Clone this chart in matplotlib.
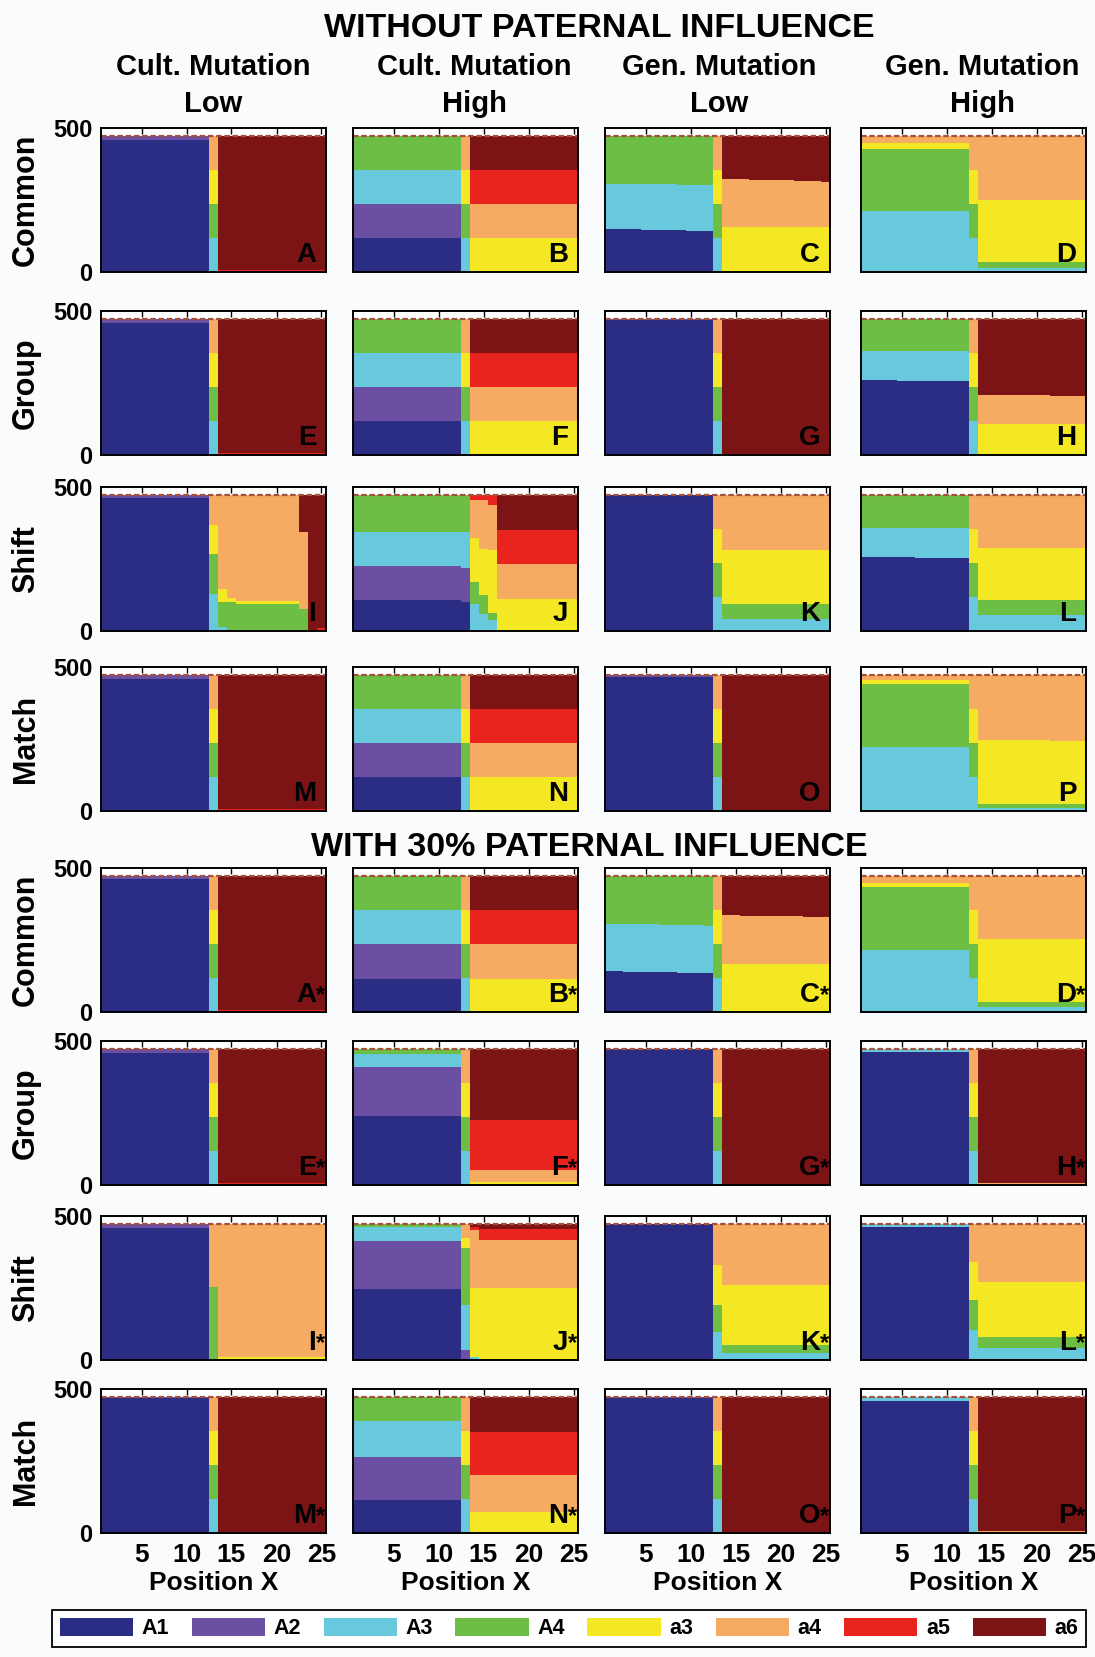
import numpy as np
import matplotlib.pyplot as plt
from matplotlib.patches import Patch
from matplotlib.transforms import offset_copy

plt.rcParams['font.family'] = ['Liberation Sans', 'DejaVu Sans']
plt.rcParams['font.weight'] = 'bold'
plt.rcParams['axes.labelweight'] = 'bold'

types = ['A1', 'A2', 'A3', 'A4', 'a3', 'a4', 'a5', 'a6']
colors = ['#2b2c83', '#6b4fa2', '#68c9dc', '#6dbe45',
          '#f3e823', '#f6ab62', '#e9241f', '#7c1416']
xticks = [5, 10, 15, 20, 25]
col_titles = [('Cult. Mutation', 'Low'), ('Cult. Mutation', 'High'),
              ('Gen. Mutation', 'Low'), ('Gen. Mutation', 'High')]
row_titles = ['Common', 'Group', 'Shift', 'Match']
section_titles = ['WITHOUT PATERNAL INFLUENCE', 'WITH 30% PATERNAL INFLUENCE']
letters = list('ABCDEFGHIJKLMNOP')

# counts at positions 1..25, one row per type (A1, A2, A3, A4, a3, a4, a5, a6)
panel_A = [
    [458] * 12 + [0] * 13,
    [14] * 12 + [0] * 13,
    [0] * 12 + [118] + [0] * 12,
    [0] * 12 + [118] + [0] * 12,
    [0] * 12 + [118] + [0] * 12,
    [0] * 12 + [118] + [0] * 12,
    [0] * 13 + [8] * 12,
    [0] * 13 + [464] * 12,
]
panel_B = [
    [118] * 12 + [0] * 13,
    [118] * 12 + [0] * 13,
    [118] * 12 + [118] + [0] * 12,
    [118] * 12 + [118] + [0] * 12,
    [0] * 12 + [118] + [118] * 12,
    [0] * 12 + [118] + [118] * 12,
    [0] * 13 + [118] * 12,
    [0] * 13 + [118] * 12,
]
panel_C = [
    [149, 149, 148, 148, 147, 147, 146, 146, 145, 144, 143, 142] + [0] * 13,
    [0] * 25,
    [157, 157, 158, 158, 158, 158, 158, 158, 158, 158, 158, 159] + [118] + [0] * 12,
    [166, 166, 166, 166, 167, 167, 168, 168, 169, 170, 171, 171] + [118] + [0] * 12,
    [0] * 12 + [118] + [157] * 12,
    [0] * 12 + [118] + [166, 165, 165, 164, 163, 162, 161, 161, 160, 159, 158, 157],
    [0] * 25,
    [0] * 13 + [149, 150, 150, 151, 152, 153, 154, 154, 155, 156, 157, 158],
]
panel_D = [
    [0] * 25,
    [0] * 25,
    [213] * 12 + [118] + [14] * 12,
    [215] * 12 + [118] + [19] * 12,
    [20] * 12 + [118] + [217] * 12,
    [24] * 12 + [118] + [222] * 12,
    [0] * 25,
    [0] * 25,
]
panel_E = [
    [458] * 12 + [0] * 13,
    [14] * 12 + [0] * 13,
    [0] * 12 + [118] + [0] * 12,
    [0] * 12 + [118] + [0] * 12,
    [0] * 12 + [118] + [0] * 12,
    [0] * 12 + [118] + [0] * 12,
    [0] * 13 + [8] * 12,
    [0] * 13 + [464] * 12,
]
panel_F = [
    [118] * 12 + [0] * 13,
    [118] * 12 + [0] * 13,
    [118] * 12 + [118] + [0] * 12,
    [118] * 12 + [118] + [0] * 12,
    [0] * 12 + [118] + [118] * 12,
    [0] * 12 + [118] + [118] * 12,
    [0] * 13 + [118] * 12,
    [0] * 13 + [118] * 12,
]
panel_G = [
    [470] * 12 + [0] * 13,
    [2] * 12 + [0] * 13,
    [0] * 12 + [118] + [0] * 12,
    [0] * 12 + [118] + [0] * 12,
    [0] * 12 + [118] + [0] * 12,
    [0] * 12 + [118] + [0] * 12,
    [0] * 25,
    [0] * 13 + [472] * 12,
]
panel_H = [
    [260, 260, 259, 259, 258, 258, 258, 257, 257, 257, 256, 256] + [0] * 13,
    [0] * 25,
    [100, 100, 101, 101, 102, 102, 102, 103, 103, 103, 104, 104] + [118] + [0] * 12,
    [112] * 12 + [118] + [0] * 12,
    [0] * 12 + [118] + [107] * 12,
    [0] * 12 + [118] + [102, 102, 101, 101, 101, 100, 100, 100, 99, 99, 99, 99],
    [0] * 25,
    [0] * 13 + [263, 263, 264, 264, 264, 265, 265, 265, 266, 266, 266, 266],
]
panel_I = [
    [463] * 12 + [0] * 13,
    [9] * 12 + [0] * 13,
    [0] * 12 + [130] + [15, 5, 0, 0, 0, 0, 0, 0, 0, 0, 0, 0],
    [0] * 12 + [138] + [85, 95, 95, 95, 95, 95, 95, 95, 95, 75, 0, 0],
    [0] * 12 + [99] + [45, 15, 10, 10, 10, 10, 8, 8, 8, 0, 0, 0],
    [0] * 12 + [105] + [327, 357, 367, 367, 367, 367, 369, 369, 369, 270, 0, 0],
    [0] * 24 + [10],
    [0] * 22 + [127, 472, 462],
]
panel_J = [
    [106] * 12 + [101] + [0] * 12,
    [118] * 12 + [119] + [0] * 12,
    [120] * 12 + [125] + [93, 60, 37] + [0] * 9,
    [128] * 12 + [127] + [77, 64, 25] + [0] * 9,
    [0] * 13 + [154, 162, 218] + [112] * 9,
    [0] * 13 + [130, 168, 157] + [122] * 9,
    [0] * 13 + [18, 18, 35] + [116] * 9,
    [0] * 16 + [122] * 9,
]
panel_K = [
    [472] * 12 + [0] * 13,
    [0] * 25,
    [0] * 12 + [118] + [43] * 12,
    [0] * 12 + [118] + [52] * 12,
    [0] * 12 + [118] + [185] * 12,
    [0] * 12 + [118] + [192] * 12,
    [0] * 25,
    [0] * 25,
]
panel_L = [
    [257, 257, 257, 256, 256, 256, 255, 255, 255, 254, 254, 253] + [0] * 13,
    [0] * 25,
    [102, 102, 102, 103, 103, 103, 104, 104, 104, 105, 105, 106] + [118] + [54] * 12,
    [113] * 12 + [118] + [55] * 12,
    [0] * 12 + [118] + [180] * 12,
    [0] * 12 + [118] + [183] * 12,
    [0] * 25,
    [0] * 25,
]
panel_M = [
    [460] * 12 + [0] * 13,
    [12] * 12 + [0] * 13,
    [0] * 12 + [118] + [0] * 12,
    [0] * 12 + [118] + [0] * 12,
    [0] * 12 + [118] + [0] * 12,
    [0] * 12 + [118] + [0] * 12,
    [0] * 13 + [8] * 12,
    [0] * 13 + [464] * 12,
]
panel_N = [
    [118] * 12 + [0] * 13,
    [118] * 12 + [0] * 13,
    [118] * 12 + [118] + [0] * 12,
    [118] * 12 + [118] + [0] * 12,
    [0] * 12 + [118] + [118] * 12,
    [0] * 12 + [118] + [118] * 12,
    [0] * 13 + [118] * 12,
    [0] * 13 + [118] * 12,
]
panel_O = [
    [466] * 12 + [0] * 13,
    [6] * 12 + [0] * 13,
    [0] * 12 + [118] + [0] * 12,
    [0] * 12 + [118] + [0] * 12,
    [0] * 12 + [118] + [0] * 12,
    [0] * 12 + [118] + [0] * 12,
    [0] * 25,
    [0] * 13 + [472] * 12,
]
panel_P = [
    [0] * 25,
    [0] * 25,
    [221] * 12 + [118] + [9] * 12,
    [221] * 12 + [118] + [14] * 12,
    [12] * 12 + [118] + [225, 225, 224, 224, 223, 223, 222, 222, 221, 221, 220, 220],
    [18] * 12 + [118] + [224, 224, 225, 225, 226, 226, 227, 227, 228, 228, 229, 229],
    [0] * 25,
    [0] * 25,
]

panel_A_s = [
    [462] * 12 + [0] * 13,
    [10] * 12 + [0] * 13,
    [0] * 12 + [118] + [0] * 12,
    [0] * 12 + [118] + [0] * 12,
    [0] * 12 + [118] + [0] * 12,
    [0] * 12 + [118] + [0] * 12,
    [0] * 13 + [8] * 12,
    [0] * 13 + [464] * 12,
]
panel_B_s = [
    [115] * 12 + [0] * 13,
    [120] * 12 + [0] * 13,
    [118] * 12 + [118] + [0] * 12,
    [119] * 12 + [118] + [0] * 12,
    [0] * 12 + [118] + [115] * 12,
    [0] * 12 + [118] + [120] * 12,
    [0] * 13 + [118] * 12,
    [0] * 13 + [119] * 12,
]
panel_C_s = [
    [141, 141, 140, 140, 139, 139, 138, 138, 137, 137, 136, 135] + [0] * 13,
    [0] * 25,
    [165] * 12 + [118] + [0] * 12,
    [166, 166, 167, 167, 168, 168, 169, 169, 170, 170, 171, 172] + [118] + [0] * 12,
    [0] * 12 + [118] + [165] * 12,
    [0] * 12 + [118] + [171, 171, 170, 170, 169, 169, 168, 168, 167, 166, 165, 164],
    [0] * 25,
    [0] * 13 + [136, 136, 137, 137, 138, 138, 139, 139, 140, 141, 142, 143],
]
panel_D_s = [
    [0] * 25,
    [0] * 25,
    [215] * 12 + [118] + [18] * 12,
    [218] * 12 + [118] + [17] * 12,
    [14] * 12 + [118] + [218] * 12,
    [25] * 12 + [118] + [219] * 12,
    [0] * 25,
    [0] * 25,
]
panel_E_s = [
    [459] * 12 + [0] * 13,
    [13] * 12 + [0] * 13,
    [0] * 12 + [118] + [0] * 12,
    [0] * 12 + [118] + [0] * 12,
    [0] * 12 + [118] + [0] * 12,
    [0] * 12 + [118] + [0] * 12,
    [0] * 13 + [8] * 12,
    [0] * 13 + [464] * 12,
]
panel_F_s = [
    [241] * 12 + [0] * 13,
    [170] * 12 + [0] * 13,
    [43] * 12 + [118] + [0] * 12,
    [18] * 12 + [118] + [0] * 12,
    [0] * 12 + [118] + [12] * 12,
    [0] * 12 + [118] + [40] * 12,
    [0] * 13 + [172] * 12,
    [0] * 13 + [248] * 12,
]
panel_G_s = [
    [472] * 12 + [0] * 13,
    [0] * 25,
    [0] * 12 + [118] + [0] * 12,
    [0] * 12 + [118] + [0] * 12,
    [0] * 12 + [118] + [0] * 12,
    [0] * 12 + [118] + [0] * 12,
    [0] * 25,
    [0] * 13 + [472] * 12,
]
panel_H_s = [
    [462] * 12 + [0] * 13,
    [0] * 25,
    [10] * 12 + [118] + [0] * 12,
    [0] * 12 + [118] + [0] * 12,
    [0] * 12 + [118] + [0] * 12,
    [0] * 12 + [118] + [6] * 12,
    [0] * 25,
    [0] * 13 + [466] * 12,
]
panel_I_s = [
    [460] * 12 + [0] * 13,
    [12] * 12 + [0] * 13,
    [0] * 12 + [5] + [0] * 12,
    [0] * 12 + [250] + [0] * 12,
    [0] * 13 + [10] * 12,
    [0] * 12 + [217] + [462] * 12,
    [0] * 25,
    [0] * 25,
]
panel_J_s = [
    [245] * 12 + [0] * 13,
    [168] * 12 + [35] + [0] * 12,
    [50] * 12 + [156] + [10] + [0] * 11,
    [9] * 12 + [197] + [0] * 12,
    [0] * 12 + [34] + [240] + [249] * 11,
    [0] * 12 + [50] + [200] + [168] * 11,
    [0] * 13 + [12] + [37] * 11,
    [0] * 13 + [10] + [18] * 11,
]
panel_K_s = [
    [472] * 12 + [0] * 13,
    [0] * 25,
    [0] * 12 + [98] + [23] * 12,
    [0] * 12 + [93] + [29] * 12,
    [0] * 12 + [139] + [208] * 12,
    [0] * 12 + [142] + [212] * 12,
    [0] * 25,
    [0] * 25,
]
panel_L_s = [
    [462] * 12 + [0] * 13,
    [0] * 25,
    [10] * 12 + [104] + [40] * 12,
    [0] * 12 + [104] + [41] * 12,
    [0] * 12 + [133] + [191] * 12,
    [0] * 12 + [131] + [200] * 12,
    [0] * 25,
    [0] * 25,
]
panel_M_s = [
    [470] * 12 + [0] * 13,
    [2] * 12 + [0] * 13,
    [0] * 12 + [118] + [0] * 12,
    [0] * 12 + [118] + [0] * 12,
    [0] * 12 + [118] + [0] * 12,
    [0] * 12 + [118] + [0] * 12,
    [0] * 25,
    [0] * 13 + [472] * 12,
]
panel_N_s = [
    [115] * 12 + [0] * 13,
    [149] * 12 + [0] * 13,
    [126] * 12 + [118] + [0] * 12,
    [82] * 12 + [118] + [0] * 12,
    [0] * 12 + [118] + [72] * 12,
    [0] * 12 + [118] + [128] * 12,
    [0] * 13 + [149] * 12,
    [0] * 13 + [123] * 12,
]
panel_O_s = [
    [470] * 12 + [0] * 13,
    [2] * 12 + [0] * 13,
    [0] * 12 + [118] + [0] * 12,
    [0] * 12 + [118] + [0] * 12,
    [0] * 12 + [118] + [0] * 12,
    [0] * 12 + [118] + [0] * 12,
    [0] * 25,
    [0] * 13 + [472] * 12,
]
panel_P_s = [
    [458] * 12 + [0] * 13,
    [0] * 25,
    [14] * 12 + [118] + [0] * 12,
    [0] * 12 + [118] + [0] * 12,
    [0] * 12 + [118] + [0] * 12,
    [0] * 12 + [118] + [8] * 12,
    [0] * 25,
    [0] * 13 + [464] * 12,
]

panels = [
    [panel_A, panel_B, panel_C, panel_D, panel_E, panel_F, panel_G, panel_H,
     panel_I, panel_J, panel_K, panel_L, panel_M, panel_N, panel_O, panel_P],
    [panel_A_s, panel_B_s, panel_C_s, panel_D_s, panel_E_s, panel_F_s, panel_G_s, panel_H_s,
     panel_I_s, panel_J_s, panel_K_s, panel_L_s, panel_M_s, panel_N_s, panel_O_s, panel_P_s],
]

# layout in pixels of the 1095 x 1657 figure
W, H = 1095, 1657
col_left = [101, 353, 605, 861]
row_top = [128, 311, 487, 667, 868, 1041, 1216, 1389]
pw, ph = 225, 144
header_x = [213, 474, 719, 982]


def fx(px):
    return px / W


def fy(py):
    return 1 - py / H


fig = plt.figure(figsize=(W / 100, H / 100), dpi=100, facecolor='#fafbfc')

fig.text(fx(599), fy(37), section_titles[0], ha='center', va='baseline', fontsize=24.5)
fig.text(fx(589), fy(856), section_titles[1], ha='center', va='baseline', fontsize=24.5)
for c in range(4):
    fig.text(fx(header_x[c]), fy(75), col_titles[c][0], ha='center', va='baseline', fontsize=21)
    fig.text(fx(header_x[c]), fy(112), col_titles[c][1], ha='center', va='baseline', fontsize=21)

edges = np.arange(0.5, 26, 1)

for h in range(2):
    for r in range(4):
        top = row_top[h * 4 + r]
        fig.text(fx(26), fy(top + ph / 2), row_titles[r], rotation=90,
                 ha='center', va='center', fontsize=22)
        for c in range(4):
            k = r * 4 + c
            ax = fig.add_axes([fx(col_left[c]), fy(top + ph), pw / W, ph / H])
            ax.set_facecolor('white')
            base = np.zeros(25)
            for vals, colr in zip(panels[h][k], colors):
                vals = np.array(vals, dtype=float)
                if vals.any():
                    ax.stairs(base + vals, edges, baseline=base.copy(), fill=True,
                              color=colr, lw=0)
                base = base + vals
            ax.stairs(base, edges, baseline=None, color='#a3503c', lw=1.6,
                      linestyle=(0, (2.5, 1.2)))
            ax.set_xlim(0.5, 25.5)
            ax.set_ylim(0, 500)
            ax.set_axisbelow(True)
            for sp in ax.spines.values():
                sp.set_linewidth(1.4)
            ax.set_xticks(xticks)
            ax.tick_params(axis='x', direction='in', top=True, length=4, width=1,
                           labelsize=19, pad=7)
            ax.set_yticks([0, 500])
            ax.tick_params(axis='y', length=0, labelsize=17, pad=6)
            for lab in ax.get_xticklabels() + ax.get_yticklabels():
                lab.set_fontweight('bold')
            if c > 0:
                ax.set_yticklabels([])
            if h == 1 and r == 3:
                ax.set_xlabel('Position X', fontsize=19, fontweight='bold', labelpad=3)
            else:
                ax.set_xticklabels([])
            tr = offset_copy(ax.transAxes, fig=fig, x=-7, y=7, units='points')
            ax.text(1, 0, letters[k], transform=tr, ha='right', va='baseline', fontsize=20)
            if h == 1:
                ax.text(1, 0, '*', transform=tr, ha='left', va='baseline', fontsize=17)

handles = [Patch(facecolor=cl, edgecolor='none') for cl in colors]
leg = fig.legend(handles, types, loc='center', ncol=8, mode='expand',
                 bbox_to_anchor=(fx(52), fy(1647), (1086 - 52) / W, 37 / H),
                 fontsize=15.5, handlelength=3.4, handleheight=0.95, handletextpad=0.4,
                 borderpad=0.35, borderaxespad=0, columnspacing=0.8,
                 frameon=True, fancybox=False, edgecolor='black', facecolor='white',
                 framealpha=1, prop={'weight': 'bold', 'size': 15.5})
leg.get_frame().set_linewidth(1.3)

fig.savefig('out.png', dpi=100, facecolor=fig.get_facecolor())
